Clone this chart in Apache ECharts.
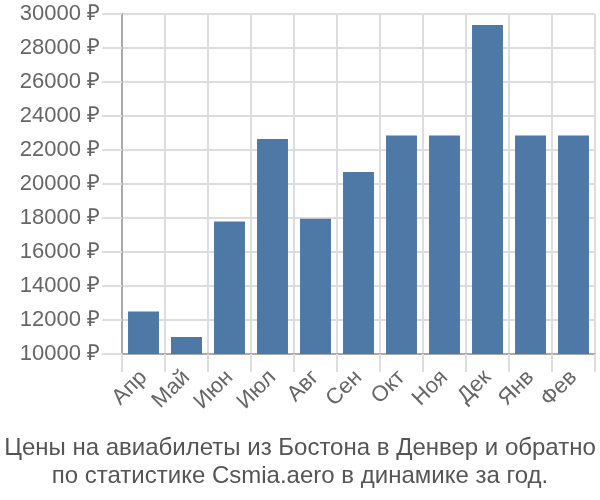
<!DOCTYPE html>
<html><head><meta charset="utf-8">
<script src="https://cdn.jsdelivr.net/npm/echarts@6/dist/echarts.min.js"></script>
<style>html,body{margin:0;padding:0;background:#fff}#c{width:600px;height:500px}</style>
</head><body><div id="c"></div>
<script>
var categories = ['Апр','Май','Июн','Июл','Авг','Сен','Окт','Ноя','Дек','Янв','Фев'];
var prices = [12500, 11000, 17800, 22650, 17950, 20700, 22850, 22850, 29350, 22850, 22850];
var titleLines = ['Цены на авиабилеты из Бостона в Денвер и обратно','по статистике Csmia.aero в динамике за год.'];
var chart = echarts.init(document.getElementById('c'), null, {renderer:'canvas'});
chart.setOption({
  animation:false,
  title:{text:titleLines.join('\n'), left:'center', bottom:5,
    textStyle:{fontFamily:'Liberation Sans, Arial', fontSize:24, fontWeight:'normal', color:'#555', lineHeight:28}},
  grid:{left:122, right:5, top:14, bottom:146},
  xAxis:{type:'category', data:categories,
    axisLine:{lineStyle:{color:'#aaa', width:2}},
    axisTick:{show:true, length:18, lineStyle:{color:'#ddd', width:2}},
    splitLine:{show:true, lineStyle:{color:'#ddd', width:2}},
    axisLabel:{rotate:45, fontFamily:'Liberation Sans, Arial', fontSize:22, color:'#666', margin:20, interval:0}},
  yAxis:{type:'value', min:10000, max:30000, interval:2000,
    axisLine:{show:true, lineStyle:{color:'#aaa', width:2}},
    axisTick:{show:true, length:20, lineStyle:{color:'#ddd', width:2}},
    splitLine:{show:true, lineStyle:{color:'#ddd', width:2}},
    axisLabel:{formatter:function(v){return v+' ₽';}, fontFamily:'Liberation Sans, Arial', fontSize:22, color:'#666', margin:22}},
  series:[{type:'bar', data:prices, barWidth:'72%', itemStyle:{color:'#4e79a7'}}]
});
</script></body></html>
